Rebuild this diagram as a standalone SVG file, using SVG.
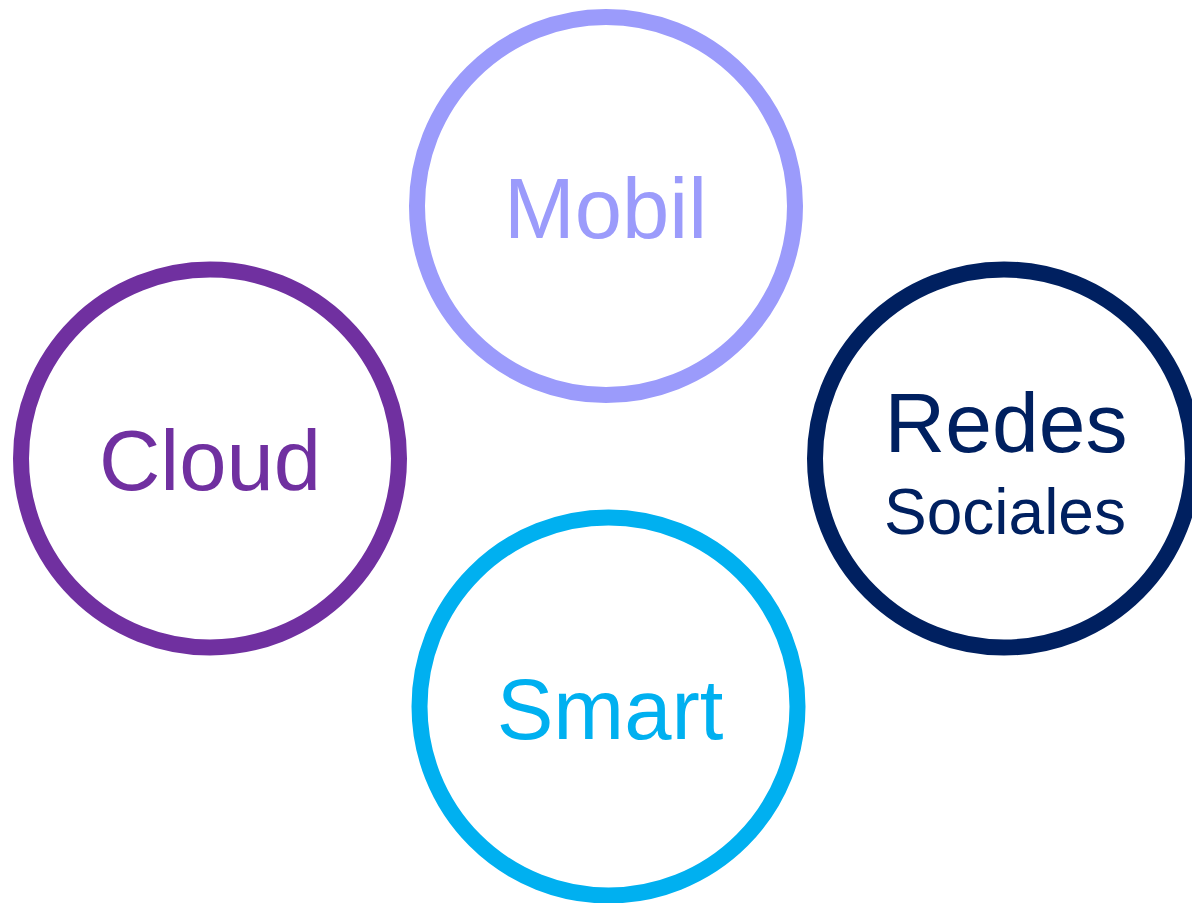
<svg xmlns="http://www.w3.org/2000/svg" width="1192" height="903" viewBox="0 0 1192 903">
<style>
.ring{fill:#ffffff;stroke-width:16}
.lbl{font-family:"Liberation Sans",Arial,sans-serif;text-anchor:middle;font-size:85px}
</style>
<rect width="1192" height="903" fill="#ffffff"/>
<g id="connectors"></g>
<g id="mobil">
<circle class="ring" cx="606" cy="206" r="189" stroke="#9B9BFB"/>
<text class="lbl" x="605.5" y="238" fill="#9B9BFB">Mobil</text>
</g>
<g id="cloud">
<circle class="ring" cx="210" cy="458.5" r="189" stroke="#7030A0"/>
<text class="lbl" x="210" y="490" fill="#7030A0">Cloud</text>
</g>
<g id="redes">
<circle class="ring" cx="1004" cy="458.5" r="189" stroke="#002060"/>
<text class="lbl" x="1006" y="452" style="font-size:84px" fill="#002060">Redes</text>
<text class="lbl" x="1005" y="534" style="font-size:64px" fill="#002060">Sociales</text>
</g>
<g id="smart">
<circle class="ring" cx="608.5" cy="706.5" r="189" stroke="#00B0F0"/>
<text class="lbl" x="610" y="739" fill="#00B0F0">Smart</text>
</g>
</svg>
